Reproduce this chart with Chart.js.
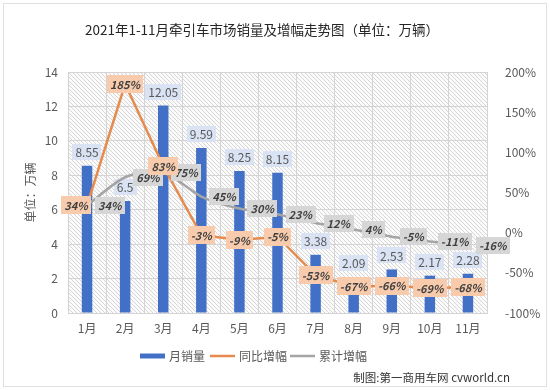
<!DOCTYPE html>
<html><head><meta charset="utf-8">
<script src="https://cdn.jsdelivr.net/npm/chart.js@4/dist/chart.umd.min.js"></script>
<style>html,body{margin:0;padding:0;background:#fff}#wrap{width:550px;height:390px;position:relative}</style>
</head><body><div id="wrap"><canvas id="c"></canvas></div>
<script>
const categories = ['1月','2月','3月','4月','5月','6月','7月','8月','9月','10月','11月'];
const monthlySales = [8.55,6.5,12.05,9.59,8.25,8.15,3.38,2.09,2.53,2.17,2.28];
const yoyGrowth = [34,185,83,-3,-9,-5,-53,-67,-66,-69,-68];
const cumGrowth = [34,69,75,45,30,23,12,4,-5,-11,-16];
const leftTicks = [0,2,4,6,8,10,12,14];
const rightTicks = [-100,-50,0,50,100,150,200];
const seriesNames = ['月销量','同比增幅','累计增幅'];
const titleText = '2021年1-11月牵引车市场销量及增幅走势图（单位：万辆）';
const creditText = '制图:第一商用车网 cvworld.cn';

const FONT = '"Noto Sans CJK SC", "Noto Sans", sans-serif';
const BLUE = '#4170C6', ORANGE = '#E58B4E', GRAY = '#A5A5A5';

function makeHatch(ctx){
  const p = document.createElement('canvas'); p.width = 4; p.height = 4;
  const g = p.getContext('2d');
  g.fillStyle = '#fbfbfb'; g.fillRect(0,0,4,4);
  g.strokeStyle = '#d6d6d6'; g.lineWidth = 1;
  g.beginPath();
  g.moveTo(0,0); g.lineTo(4,4);
  g.moveTo(-1,3); g.lineTo(1,5);
  g.moveTo(3,-1); g.lineTo(5,1);
  g.stroke();
  return ctx.createPattern(p,'repeat');
}

function drawBox(ctx, text, cx, cy, font, color, bg, padX, h){
  ctx.save();
  ctx.font = font;
  const w = ctx.measureText(text).width + padX*2;
  ctx.fillStyle = bg;
  ctx.fillRect(Math.round(cx - w/2), Math.round(cy - h/2), Math.round(w), h);
  ctx.fillStyle = color; ctx.textAlign = 'center'; ctx.textBaseline = 'middle';
  ctx.fillText(text, cx, cy + 0.5);
  ctx.restore();
  return w;
}

const decor = {
  id: 'decor',
  beforeDraw(chart){
    const {ctx, chartArea: a} = chart;
    ctx.save();
    ctx.fillStyle = '#fff'; ctx.fillRect(0,0,chart.width,chart.height);
    ctx.fillStyle = makeHatch(ctx);
    ctx.fillRect(a.left, a.top, a.right - a.left, a.bottom - a.top);
    ctx.restore();
  },
  afterDatasetDraw(chart, args){
    if (args.index !== 0) return;
    const ctx = chart.ctx;
    const meta = chart.getDatasetMeta(0);
    meta.data.forEach((el, i) => {
      drawBox(ctx, String(monthlySales[i]), el.x, el.y - 14, '12px ' + FONT, '#595959', '#DAE3F3', 3, 16);
    });
  },
  afterDatasetsDraw(chart){
    const ctx = chart.ctx;
    const lab = 'italic bold 11px ' + FONT;
    const g = chart.getDatasetMeta(2);
    g.data.forEach((el, i) => {
      ctx.save(); ctx.font = lab;
      const w = ctx.measureText(cumGrowth[i] + '%').width + 6;
      ctx.restore();
      drawBox(ctx, cumGrowth[i] + '%', el.x + 8 + w/2, el.y, lab, '#404040', '#D6D6D6', 3, 17);
    });
    const o = chart.getDatasetMeta(1);
    o.data.forEach((el, i) => {
      const dx = i === 0 ? -11 : 0;
      drawBox(ctx, yoyGrowth[i] + '%', el.x + dx, el.y, lab, '#404040', '#F8CBAD', 3, 18);
    });
  },
  afterDraw(chart){
    const ctx = chart.ctx;
    ctx.save();
    ctx.strokeStyle = '#e0e0e0'; ctx.lineWidth = 1;
    ctx.strokeRect(3.5, 3.5, 543, 383);
    ctx.fillStyle = '#262626'; ctx.font = '13.5px ' + FONT;
    ctx.textAlign = 'center'; ctx.textBaseline = 'middle';
    ctx.fillText(titleText, 262, 30);
    ctx.font = '12px ' + FONT; ctx.fillStyle = '#595959'; ctx.textAlign = 'left';
    const ly = 356;
    const items = [
      {name: seriesNames[0], color: BLUE, lw: 5, x: 140},
      {name: seriesNames[1], color: ORANGE, lw: 2.5, x: 210},
      {name: seriesNames[2], color: GRAY, lw: 2.5, x: 290}
    ];
    items.forEach(it => {
      ctx.strokeStyle = it.color; ctx.lineWidth = it.lw;
      ctx.beginPath(); ctx.moveTo(it.x, ly); ctx.lineTo(it.x + 25, ly); ctx.stroke();
      ctx.fillText(it.name, it.x + 29, ly);
    });
    ctx.fillStyle = '#333'; ctx.font = '11.5px ' + FONT; ctx.textAlign = 'right';
    ctx.fillText(creditText, 510, 378);
    ctx.restore();
  }
};

new Chart(document.getElementById('c'), {
  data: {
    labels: categories,
    datasets: [
      {type: 'bar', label: seriesNames[0], data: monthlySales, backgroundColor: BLUE, yAxisID: 'y', order: 3, barPercentage: 0.55, categoryPercentage: 0.5},
      {type: 'line', label: seriesNames[1], data: yoyGrowth, borderColor: ORANGE, borderWidth: 2.5, pointRadius: 0, tension: 0, yAxisID: 'y1', order: 1},
      {type: 'line', label: seriesNames[2], data: cumGrowth, borderColor: GRAY, borderWidth: 2.5, pointRadius: 0, tension: 0.25, yAxisID: 'y1', order: 2}
    ]
  },
  options: {
    responsive: true, maintainAspectRatio: false, animation: false, devicePixelRatio: 1,
    layout: {padding: {left: 0, right: 0, top: 72, bottom: 47}},
    plugins: {legend: {display: false}, tooltip: {enabled: false}, title: {display: false}},
    scales: {
      x: {
        grid: {color: '#d4d4d4', drawTicks: false, offset: true},
        border: {color: '#d4d4d4'},
        ticks: {color: '#595959', font: {size: 12, family: FONT}, padding: 8},
        afterFit: s => { s.height = 30; }
      },
      y: {
        position: 'left', min: leftTicks[0], max: leftTicks[leftTicks.length-1],
        afterBuildTicks: s => { s.ticks = leftTicks.map(v => ({value: v})); },
        grid: {color: '#d4d4d4', drawTicks: false},
        border: {display: false},
        ticks: {color: '#595959', font: {size: 12, family: FONT}, padding: 10},
        title: {display: true, text: '单位：万辆', color: '#595959', font: {size: 12, family: FONT}, padding: {top: 23, bottom: 0}},
        afterFit: s => { s.width = 68; }
      },
      y1: {
        position: 'right', min: rightTicks[0], max: rightTicks[rightTicks.length-1],
        afterBuildTicks: s => { s.ticks = rightTicks.map(v => ({value: v})); },
        grid: {display: false},
        border: {display: false},
        ticks: {color: '#595959', font: {size: 12, family: FONT}, padding: 10, callback: v => v + '%'},
        afterFit: s => { s.width = 63; }
      }
    }
  },
  plugins: [decor]
});
</script>
</body></html>
